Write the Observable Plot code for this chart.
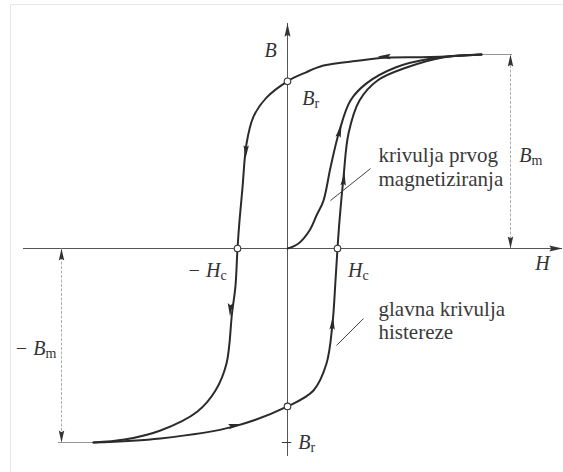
<!DOCTYPE html>
<html>
<head>
<meta charset="utf-8">
<script src="https://cdn.jsdelivr.net/npm/d3@7"></script>
<script src="https://cdn.jsdelivr.net/npm/@observablehq/plot@0.6"></script>
<style>
  html, body { margin: 0; padding: 0; background: #fff; }
  #wrap { position: relative; width: 563px; height: 472px; overflow: hidden; }
  #frame { position: absolute; left: 10px; top: 4px; right: -2px; bottom: -2px; border-left: 1px solid #e6e6e6; border-top: 1px solid #e6e6e6; pointer-events: none; }
  svg text { font-family: "Liberation Serif", "Times New Roman", "DejaVu Serif", serif; }
</style>
</head>
<body>
<div id="wrap"><div id="chart"></div><div id="frame"></div></div>
<script>
// ---- data: H in units of Hc, B in units of Bm ----
const descendingBranch = [
  [3.88, 1.0], [2.86, 0.987], [1.86, 0.982], [1.44, 0.969], [0.72, 0.943], [0.36, 0.907],
  [0, 0.862], [-0.42, 0.778], [-0.68, 0.68], [-0.82, 0.54], [-0.9, 0.314], [-0.96, 0.144],
  [-1.0, 0], [-1.04, -0.191], [-1.11, -0.335], [-1.22, -0.593], [-1.44, -0.732], [-1.8, -0.84],
  [-2.54, -0.938], [-3.26, -0.985], [-3.88, -1.0]
];
const ascendingBranch = [
  [-3.88, -1.0], [-2.54, -0.979], [-1.08, -0.918], [0, -0.814], [0.52, -0.732], [0.78, -0.593],
  [0.9, -0.387], [0.96, -0.165], [1.0, 0], [1.04, 0.144], [1.12, 0.366], [1.22, 0.593],
  [1.44, 0.763], [1.8, 0.866], [2.38, 0.933], [3.1, 0.985], [3.88, 1.0]
];
const initialCurve = [
  [0, 0], [0.22, 0.026], [0.44, 0.093], [0.58, 0.17], [0.72, 0.247], [0.86, 0.418],
  [1.04, 0.608], [1.26, 0.763], [1.58, 0.851], [2.16, 0.933], [2.88, 0.979], [3.88, 1.0]
];
// [H, B, direction in degrees clockwise from up]
const curveArrows = [
  [1.8, 0.99, 270], [-0.84, 0.464, 183], [-1.15, -0.35, 182], [-0.92, -0.905, 79],
  [0.91, -0.35, 4], [1.14, 0.392, 6], [1.08, 0.64, 15]
];
const keyPoints = [[0, 0.862], [-1, 0], [1, 0], [0, -0.814]];
const hAxisSpan = [-5.28, 5.5];
const bAxisSpan = [-1.072, 1.16];
const axisArrows = [[5.5, 0, 90], [0, 1.16, 0]];
// dimension lines for ±Bm
const dimLevels = [[3.88, 4.5, 1], [-4.58, -3.88, -1]];
const dimVerticals = [[4.46, 0, 1], [-4.52, 0, -1]];
const dimArrows = [[4.46, 1, 0], [4.46, 0, 180], [-4.52, 0, 0], [-4.52, -1, 180]];
// labels: main part ends at anchor, subscript starts there
const symbolLabels = [
  {main: "B", sub: "r", h: 0.54, b: 0.773},
  {main: "\u2212 H", sub: "c", h: -1.34, b: -0.113},
  {main: "H", sub: "c", h: 1.5, b: -0.113},
  {main: "\u2212 B", sub: "r", h: 0.46, b: -1.0},
  {main: "B", sub: "m", h: 4.88, b: 0.479},
  {main: "\u2212 B", sub: "m", h: -4.84, b: -0.515}
];
const axisLabels = [{t: "B", h: -0.34, b: 1.02}, {t: "H", h: 5.1, b: -0.077}];
const noteLines = [
  {t: "krivulja prvog", h: 1.82, b: 0.479},
  {t: "magnetiziranja", h: 1.82, b: 0.356},
  {t: "glavna krivulja", h: 1.82, b: -0.314},
  {t: "histereze", h: 1.82, b: -0.433}
];
const leaders = [[0.86, 0.247, 1.66, 0.412], [0.98, -0.5, 1.52, -0.361]];

// arrowhead symbol: tip at the point, body behind it
const tip = (ratio) => ({
  draw(ctx, size) {
    const r = Math.sqrt(size / Math.PI);
    const L = 2.2 * r, w = ratio * r;
    ctx.moveTo(0, 0); ctx.lineTo(w, L); ctx.lineTo(0, L * 0.85); ctx.lineTo(-w, L); ctx.closePath();
  }
});

const ink = "#2b2b2b";
const serif = "Liberation Serif";

const chart = Plot.plot({
  width: 563, height: 472,
  margin: 0,
  x: {domain: [-5.74, 5.52], axis: null},
  y: {domain: [-1.1546, 1.2784], axis: null},
  style: {background: "transparent", fontFamily: "Liberation Serif"},
  marks: [
    // axes
    Plot.ruleY([0], {x1: hAxisSpan[0], x2: hAxisSpan[1], stroke: "#555", strokeWidth: 1}),
    Plot.ruleX([0], {y1: bAxisSpan[0], y2: bAxisSpan[1], stroke: "#555", strokeWidth: 1}),
    Plot.dot(axisArrows, {x: d => d[0], y: d => d[1], rotate: d => d[2], symbol: tip(0.5), r: 6, fill: "#333", stroke: "none"}),
    // dimension lines
    Plot.ruleY(dimLevels, {x1: d => d[0], x2: d => d[1], y: d => d[2], stroke: "#8a8a8a", strokeWidth: 0.9}),
    Plot.ruleX(dimVerticals, {x: d => d[0], y1: d => d[1], y2: d => d[2], stroke: "#9a9a9a", strokeWidth: 0.8, strokeDasharray: "3,1.5"}),
    Plot.dot(dimArrows, {x: d => d[0], y: d => d[1], rotate: d => d[2], symbol: tip(0.5), r: 5.5, fill: "#333", stroke: "none"}),
    // curves
    Plot.line(descendingBranch, {x: d => d[0], y: d => d[1], curve: "catmull-rom", stroke: ink, strokeWidth: 2}),
    Plot.line(ascendingBranch, {x: d => d[0], y: d => d[1], curve: "catmull-rom", stroke: ink, strokeWidth: 2}),
    Plot.line(initialCurve, {x: d => d[0], y: d => d[1], curve: "catmull-rom", stroke: ink, strokeWidth: 2}),
    Plot.dot(curveArrows, {x: d => d[0], y: d => d[1], rotate: d => d[2], symbol: tip(0.45), r: 6, fill: ink, stroke: "none"}),
    // key points
    Plot.dot(keyPoints, {x: d => d[0], y: d => d[1], r: 3.3, fill: "white", stroke: "#333", strokeWidth: 1.1}),
    // leader lines
    Plot.link(leaders, {x1: d => d[0], y1: d => d[1], x2: d => d[2], y2: d => d[3], stroke: "#444", strokeWidth: 1}),
    // labels
    Plot.text(symbolLabels, {x: "h", y: "b", text: "main", textAnchor: "end", fontFamily: serif, fontStyle: "italic", fontSize: 20, fill: "#333"}),
    Plot.text(symbolLabels, {x: "h", y: "b", text: "sub", textAnchor: "start", dy: 5, fontFamily: serif, fontSize: 14, fill: "#333"}),
    Plot.text(axisLabels, {x: "h", y: "b", text: "t", fontFamily: serif, fontStyle: "italic", fontSize: 20, fill: "#333"}),
    Plot.text(noteLines, {x: "h", y: "b", text: "t", textAnchor: "start", fontFamily: serif, fontSize: 21, fill: "#3a3a3a"})
  ]
});
document.getElementById("chart").appendChild(chart);
</script>
</body>
</html>
